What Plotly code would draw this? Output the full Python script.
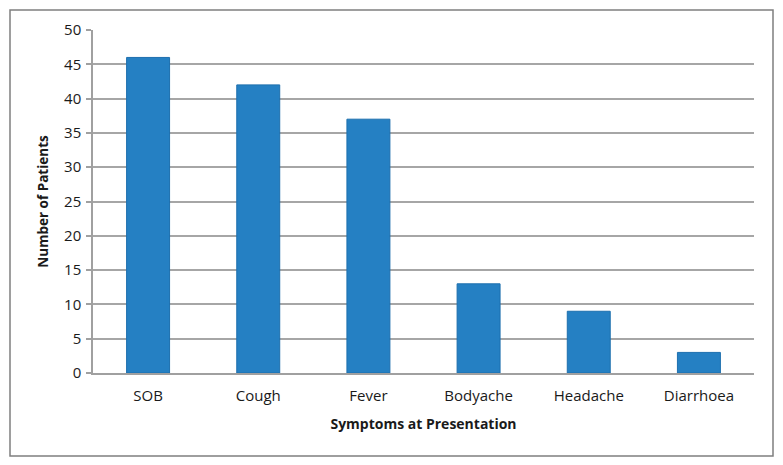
import plotly.graph_objects as go

categories = ["SOB", "Cough", "Fever", "Bodyache", "Headache", "Diarrhoea"]
patients = [46, 42, 37, 13, 9, 3]
y_ticks = [0, 5, 10, 15, 20, 25, 30, 35, 40, 45, 50]

FONT = "Open Sans"
OFF = 8  # browser default body margin
W, H = 783 - OFF, 465 - OFF
L, R, T, B = 93 - OFF, 29, 30 - OFF, 92
pw, ph = W - L - R, H - T - B

def px_x(p):
    return (p - OFF - L) / pw

def px_y(p):
    return (H - B - (p - OFF)) / ph

fig = go.Figure(go.Bar(
    x=categories, y=patients,
    marker=dict(color="#2580C3", line=dict(color="#1D6FAE", width=1)),
    width=0.39,
))

fig.update_layout(
    width=W, height=H,
    margin=dict(l=L, r=R, t=T, b=B),
    paper_bgcolor="white", plot_bgcolor="white",
    showlegend=False,
    font=dict(family=FONT, size=15, color="#1a1a1a"),
    shapes=[dict(type="rect", xref="paper", yref="paper",
                 x0=px_x(10), x1=px_x(773), y0=px_y(456), y1=px_y(10),
                 line=dict(color="#7f7f7f", width=1.5), fillcolor="rgba(0,0,0,0)",
                 layer="below")],
)

fig.update_xaxes(
    showline=True, linecolor="#a0a0a0", linewidth=1.5,
    ticks="", showgrid=False, ticklabelstandoff=8,
    tickfont=dict(family=FONT, size=15, color="#1a1a1a"),
    title=dict(text="<b>Symptoms at Presentation</b>", standoff=15,
               font=dict(family=FONT, size=14, color="#1a1a1a")),
)
fig.update_yaxes(
    range=[0, 50], tickvals=y_ticks,
    showline=True, linecolor="#a0a0a0", linewidth=1.5,
    ticks="outside", ticklen=5, tickcolor="#a0a0a0", tickwidth=1.5,
    showgrid=True, gridcolor="#a6a6a6", gridwidth=1.5,
    zeroline=False, ticklabelstandoff=2,
    tickfont=dict(family=FONT, size=15, color="#1a1a1a"),
    title=dict(text="<b>Number of Patients</b>", standoff=12,
               font=dict(family=FONT, size=13.5, color="#1a1a1a")),
)

fig.write_html("out.html")
